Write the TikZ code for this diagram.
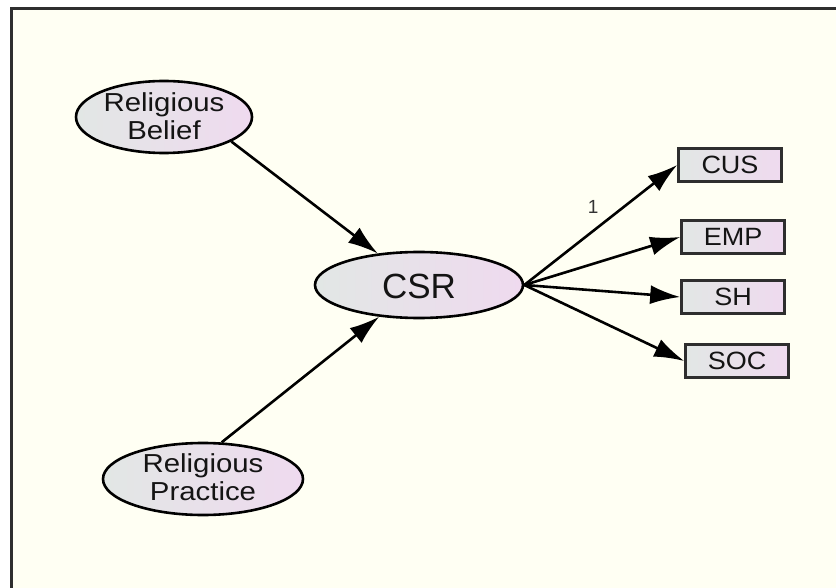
\documentclass[tikz,border=0pt]{standalone}
\usepackage{fontspec}
\setmainfont{Liberation Sans}
\usetikzlibrary{shapes.geometric,arrows.meta}
\definecolor{bgc}{HTML}{FFFFF3}
\definecolor{lc}{HTML}{E2E7E5}
\definecolor{rc}{HTML}{EFDAEF}
\definecolor{framec}{HTML}{2E2E2E}
\newcommand{\wideA}[1]{\scalebox{1.13}[1]{#1}}
\newcommand{\wideB}[1]{\scalebox{1.08}[1]{#1}}
\tikzset{
  lat/.style={ellipse, draw=black, line width=2.6pt, left color=lc, right color=rc, inner sep=0pt},
  obs/.style={rectangle, draw=framec, line width=2.6pt, left color=lc, right color=rc, inner sep=0pt, minimum width=103pt, minimum height=33pt, font=\fontsize{25}{27}\selectfont, text=black!92},
  txt/.style={align=center, font=\fontsize{26}{28}\selectfont, text=black!92},
  path/.style={line width=2.6pt, -{Latex[length=30pt,width=19pt]}}
}
\begin{document}
\begin{tikzpicture}[x=1pt,y=-1pt]
\useasboundingbox (0,0) rectangle (836,588);
\fill[white] (0,0) rectangle (836,588);
\fill[bgc] (11,9) rectangle (840,592);
\draw[framec, line width=3pt] (11,592) -- (11,9) -- (840,9);

\node[lat, minimum width=176pt, minimum height=72pt] (rb) at (164,117) {};
\node[txt] (rbt) at (164,116) {\wideA{Religious}\\\wideA{Belief}};
\node[lat, minimum width=208pt, minimum height=66pt] (csr) at (419,285) {};
\node[txt, font=\fontsize{35}{37}\selectfont] (csrt) at (419,286) {CSR};
\node[lat, minimum width=200pt, minimum height=72pt] (rp) at (203,479) {};
\node[txt] (rpt) at (203,477) {\wideA{Religious}\\\wideA{Practice}};

\node[obs] (cus) at (730,165) {\wideB{CUS}};
\node[obs] (emp) at (733,237) {\wideB{EMP}};
\node[obs] (sh) at (733,297) {\wideB{SH}};
\node[obs] (soc) at (737,361) {\wideB{SOC}};

\draw[path] (rb.-20) -- (csr);
\draw[path] (rp.63) -- (csr);
\draw[path] (csr.east) -- node[pos=0.45, above, yshift=13pt, font=\fontsize{19}{21}\selectfont, text=black!80] (one) {1} (cus.west);
\draw[path] (csr.east) -- (emp.west);
\draw[path] (csr.east) -- (sh.west);
\draw[path] (csr.east) -- (soc.west);
\end{tikzpicture}
\end{document}
